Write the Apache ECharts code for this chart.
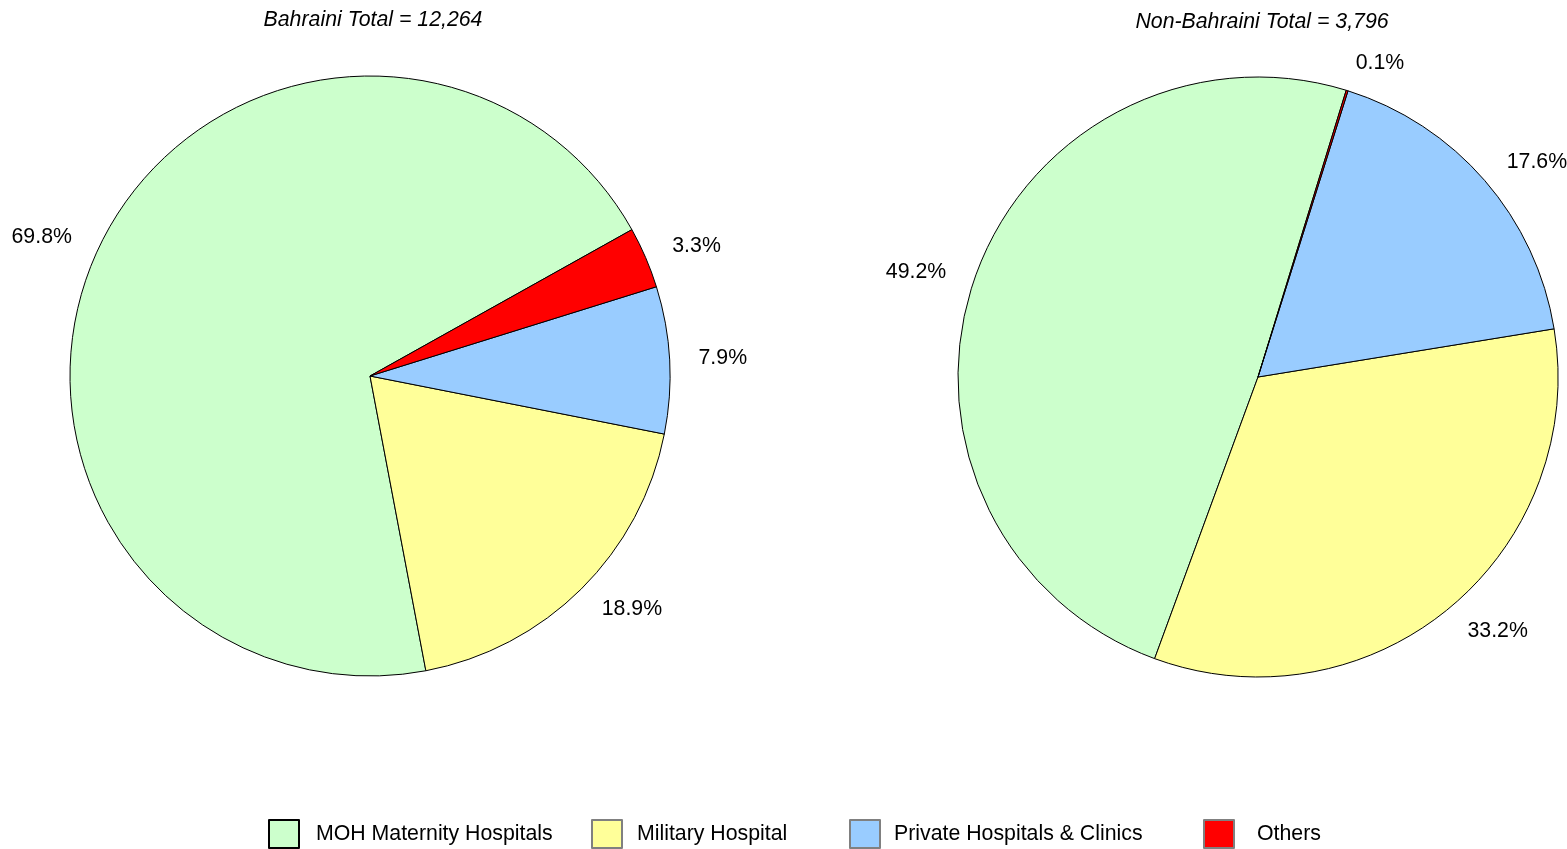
<!DOCTYPE html>
<html>
<head>
<meta charset="utf-8">
<script src="https://cdn.jsdelivr.net/npm/echarts@6/dist/echarts.min.js"></script>
<style>
  html, body { margin: 0; padding: 0; background: #fff; }
  #chart { width: 1567px; height: 849px; }
</style>
</head>
<body>
<div id="chart"></div>
<script>
const categories = ['MOH Maternity Hospitals', 'Military Hospital', 'Private Hospitals & Clinics', 'Others'];
const colors = ['#CCFFCC', '#FFFF99', '#99CCFF', '#FF0000'];
const legendBorders = ['#000000', '#808080', '#808080', '#808080'];
const bahrainiPct = [69.8, 18.9, 7.9, 3.3];
const nonBahrainiPct = [49.2, 33.2, 17.6, 0.1];
const titles = ['Bahraini Total = 12,264', 'Non-Bahraini Total = 3,796'];

const FONT = '"Liberation Sans", Arial, sans-serif';
const FS = 21.3;

function pieSeries(values, center, startAngle) {
    return {
        type: 'pie',
        center: center,
        radius: 300,
        startAngle: startAngle,
        clockwise: false,
        avoidLabelOverlap: false,
        silent: true,
        emphasis: { disabled: true },
        data: values.map((v, i) => ({
            name: categories[i],
            value: v,
            itemStyle: { color: colors[i] }
        })),
        itemStyle: { borderColor: '#000', borderWidth: 1 },
        label: {
            show: true,
            position: 'outside',
            formatter: '{c}%',
            color: '#000',
            fontFamily: FONT,
            fontSize: FS,
            distanceToLabelLine: 0
        },
        labelLine: { show: false, length: 29, length2: 0 }
    };
}

// each legend entry placed on its own, like the original's uneven spacing
const legendLefts = [268, 591, 849, 1203];
const legendPads = [12, 10, 9, 18];

const chart = echarts.init(document.getElementById('chart'));

chart.setOption({
    animation: false,
    backgroundColor: '#fff',
    graphic: [
        {
            type: 'text', x: 373, y: 20,
            style: { text: titles[0], align: 'center', verticalAlign: 'middle', fill: '#000',
                     font: 'italic ' + FS + 'px ' + FONT }
        },
        {
            type: 'text', x: 1262, y: 22,
            style: { text: titles[1], align: 'center', verticalAlign: 'middle', fill: '#000',
                     font: 'italic ' + FS + 'px ' + FONT }
        }
    ],
    legend: categories.map((name, i) => ({
        left: legendLefts[i],
        top: 819,
        padding: 0,
        icon: 'rect',
        itemWidth: 30,
        itemHeight: 28,
        selectedMode: false,
        textStyle: { fontFamily: FONT, fontSize: FS, color: '#000', padding: [0, 0, 0, legendPads[i]] },
        data: [{ name: name, itemStyle: { color: colors[i], borderColor: legendBorders[i], borderWidth: 2 } }]
    })),
    series: [
        pieSeries(bahrainiPct, [370, 376], 29.2),
        pieSeries(nonBahrainiPct, [1258, 377], 72.9)
    ]
});
</script>
</body>
</html>
